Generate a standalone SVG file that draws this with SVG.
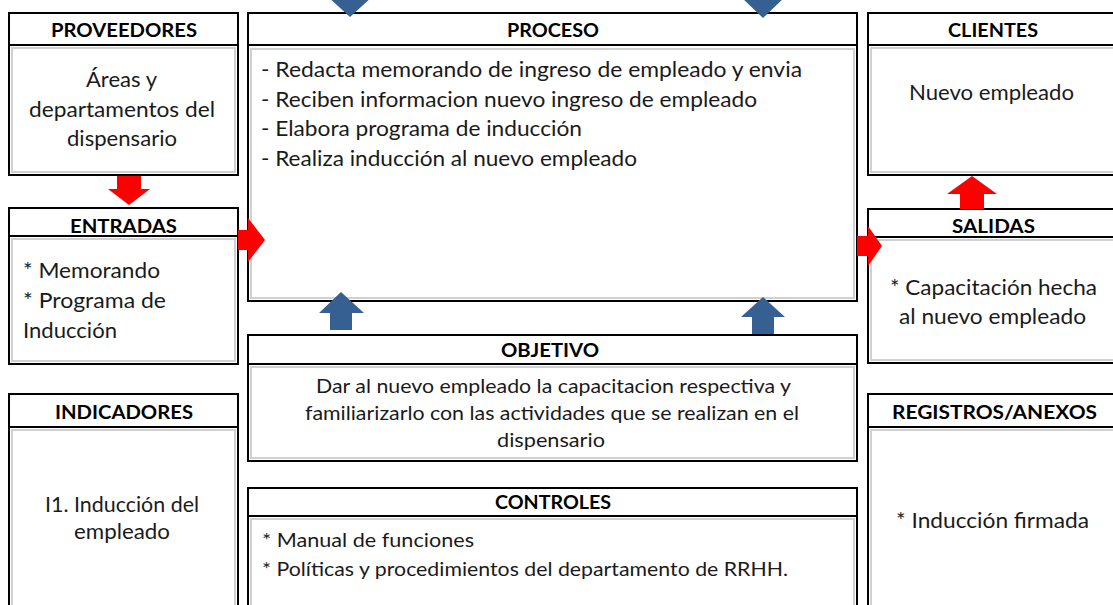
<svg xmlns="http://www.w3.org/2000/svg" width="1113" height="605" viewBox="0 0 1113 605">
<style>
.box{fill:#fff;stroke:#000;stroke-width:2}
.sep{stroke:#000;stroke-width:2}
.inner{fill:none;stroke:#d0d0d0;stroke-width:2}
.hdr{font-family:Lato,"Liberation Sans",sans-serif;font-weight:bold;font-size:19px;fill:#000}
.txt{font-family:Lato,"Liberation Sans",sans-serif;font-size:21px;fill:#1a1a1a}
.sm{font-family:Lato,"Liberation Sans",sans-serif;font-size:19px;fill:#1a1a1a}
.red{fill:#ff0000}
.blue{fill:#376092}
</style>
<rect width="1113" height="605" fill="#fff"/>

<g id="proveedores">
<rect class="box" x="9" y="13" width="229" height="162"/>
<line class="sep" x1="9" y1="45" x2="238" y2="45"/>
<rect class="inner" x="12" y="48" width="223" height="124"/>
<text class="hdr" x="51" y="37" textLength="146" lengthAdjust="spacingAndGlyphs">PROVEEDORES</text>
<text class="txt" x="86" y="87" textLength="71" lengthAdjust="spacingAndGlyphs">Áreas y</text>
<text class="txt" x="29" y="117" textLength="186" lengthAdjust="spacingAndGlyphs">departamentos del</text>
<text class="txt" x="67" y="146" textLength="110" lengthAdjust="spacingAndGlyphs">dispensario</text>
</g>

<g id="proceso">
<rect class="box" x="248" y="13" width="609" height="288"/>
<line class="sep" x1="248" y1="45" x2="857" y2="45"/>
<rect class="inner" x="251" y="49" width="603" height="249"/>
<text class="hdr" x="507" y="37" textLength="92" lengthAdjust="spacingAndGlyphs">PROCESO</text>
<text class="txt" x="261" y="77" textLength="541" lengthAdjust="spacingAndGlyphs">- Redacta memorando de ingreso de empleado y envia</text>
<text class="txt" x="261" y="107" textLength="496" lengthAdjust="spacingAndGlyphs">- Reciben informacion nuevo ingreso de empleado</text>
<text class="txt" x="261" y="136" textLength="321" lengthAdjust="spacingAndGlyphs">- Elabora programa de inducción</text>
<text class="txt" x="261" y="166" textLength="376" lengthAdjust="spacingAndGlyphs">- Realiza inducción al nuevo empleado</text>
</g>

<g id="clientes">
<rect class="box" x="868" y="13" width="260" height="162"/>
<line class="sep" x1="868" y1="45" x2="1128" y2="45"/>
<rect class="inner" x="871" y="48" width="260" height="124"/>
<text class="hdr" x="948" y="37" textLength="90" lengthAdjust="spacingAndGlyphs">CLIENTES</text>
<text class="txt" x="909" y="100" textLength="165" lengthAdjust="spacingAndGlyphs">Nuevo empleado</text>
</g>

<g id="entradas">
<rect class="box" x="9" y="208" width="229" height="156"/>
<line class="sep" x1="9" y1="236" x2="238" y2="236"/>
<rect class="inner" x="12" y="239" width="223" height="122"/>
<text class="hdr" x="70" y="233" textLength="107" lengthAdjust="spacingAndGlyphs">ENTRADAS</text>
<text class="txt" x="23" y="278" textLength="137" lengthAdjust="spacingAndGlyphs">* Memorando</text>
<text class="txt" x="23" y="308" textLength="143" lengthAdjust="spacingAndGlyphs">* Programa de</text>
<text class="txt" x="23" y="338" textLength="94" lengthAdjust="spacingAndGlyphs">Inducción</text>
</g>

<g id="salidas">
<rect class="box" x="868" y="209" width="260" height="154"/>
<line class="sep" x1="868" y1="237" x2="1128" y2="237"/>
<rect class="inner" x="871" y="240" width="260" height="120"/>
<text class="hdr" x="952" y="233" textLength="83" lengthAdjust="spacingAndGlyphs">SALIDAS</text>
<text class="txt" x="890" y="295" textLength="207" lengthAdjust="spacingAndGlyphs">* Capacitación hecha</text>
<text class="txt" x="899" y="324" textLength="187" lengthAdjust="spacingAndGlyphs">al nuevo empleado</text>
</g>

<g id="objetivo">
<rect class="box" x="248" y="335" width="609" height="126"/>
<line class="sep" x1="248" y1="364" x2="857" y2="364"/>
<rect class="inner" x="251" y="367" width="603" height="91"/>
<text class="hdr" x="501" y="357" textLength="98" lengthAdjust="spacingAndGlyphs">OBJETIVO</text>
<text class="sm" x="316" y="393" textLength="475" lengthAdjust="spacingAndGlyphs">Dar al nuevo empleado la capacitacion respectiva y</text>
<text class="sm" x="305" y="420" textLength="494" lengthAdjust="spacingAndGlyphs">familiarizarlo con las actividades que se realizan en el</text>
<text class="sm" x="497" y="447" textLength="108" lengthAdjust="spacingAndGlyphs">dispensario</text>
</g>

<g id="indicadores">
<rect class="box" x="9" y="394" width="229" height="230"/>
<line class="sep" x1="9" y1="427" x2="238" y2="427"/>
<rect class="inner" x="12" y="430" width="223" height="200"/>
<text class="hdr" x="55" y="419" textLength="138" lengthAdjust="spacingAndGlyphs">INDICADORES</text>
<text class="txt" x="45" y="512" textLength="154" lengthAdjust="spacingAndGlyphs">I1. Inducción del</text>
<text class="txt" x="74" y="539" textLength="96" lengthAdjust="spacingAndGlyphs">empleado</text>
</g>

<g id="controles">
<rect class="box" x="248" y="488" width="609" height="140"/>
<line class="sep" x1="248" y1="516" x2="857" y2="516"/>
<rect class="inner" x="251" y="519" width="603" height="110"/>
<text class="hdr" x="495" y="509" textLength="116" lengthAdjust="spacingAndGlyphs">CONTROLES</text>
<text class="sm" x="262" y="547" textLength="212" lengthAdjust="spacingAndGlyphs">* Manual de funciones</text>
<text class="sm" x="262" y="576" textLength="526" lengthAdjust="spacingAndGlyphs">* Políticas y procedimientos del departamento de RRHH.</text>
</g>

<g id="registros">
<rect class="box" x="868" y="394" width="260" height="230"/>
<line class="sep" x1="868" y1="427" x2="1128" y2="427"/>
<rect class="inner" x="871" y="430" width="260" height="200"/>
<text class="hdr" x="892" y="419" textLength="205" lengthAdjust="spacingAndGlyphs">REGISTROS/ANEXOS</text>
<text class="txt" x="896" y="528" textLength="193" lengthAdjust="spacingAndGlyphs">* Inducción firmada</text>
</g>

<g id="connectors">
<polygon class="red" points="117,176 141,176 141,189 150,189 129,205 108,189 117,189"/>
<polygon class="red" points="238,230 248,230 248,218 265,240 248,262 248,250 238,250"/>
<polygon class="red" points="857,236 868,236 868,226 882,246 868,266 868,256 857,256"/>
<polygon class="red" points="960,209 984,209 984,194 997,194 972,176 947,194 960,194"/>
<polygon class="blue" points="339,-10 361,-10 361,-4 373,-4 350,17 327,-4 339,-4"/>
<polygon class="blue" points="752,-10 774,-10 774,-3 785,-3 763,18 741,-3 752,-3"/>
<polygon class="blue" points="330,330 352,330 352,313 364,313 341,292 319,313 330,313"/>
<polygon class="blue" points="752,334 774,334 774,317 785,317 763,297 741,317 752,317"/>
</g>
</svg>
